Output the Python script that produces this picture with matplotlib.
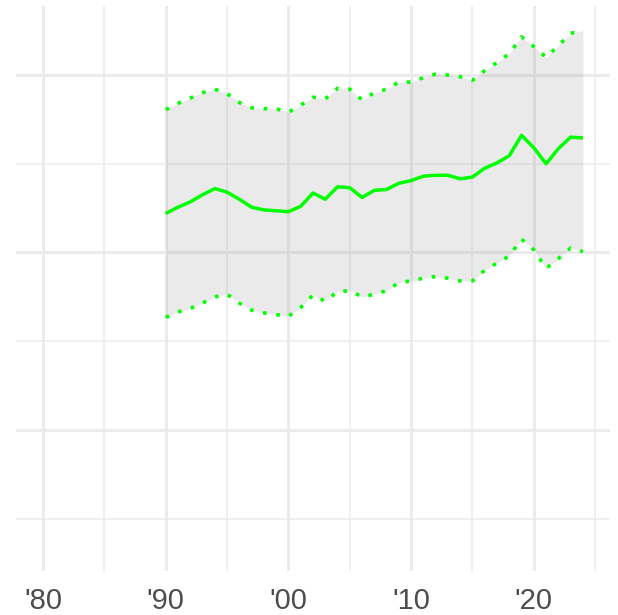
# Trend line with upper/lower band, minimal grid style

import numpy as np
import matplotlib.pyplot as plt
from matplotlib.ticker import FixedLocator

# Data
years = list(range(1990, 2025))
center = [44.4, 45.1, 45.7, 46.5, 47.2, 46.8, 46.0, 45.1, 44.8, 44.7,
          44.6, 45.2, 46.7, 46.0, 47.4, 47.3, 46.2, 47.0, 47.1, 47.8,
          48.1, 48.6, 48.7, 48.7, 48.3, 48.5, 49.5, 50.1, 50.9, 53.2,
          51.8, 50.0, 51.7, 53.0, 52.9]
upper = [56.1, 56.8, 57.4, 58.0, 58.4, 57.9, 56.9, 56.3, 56.2, 56.2,
         55.8, 56.6, 57.5, 57.3, 58.5, 58.4, 57.2, 58.0, 58.4, 59.2,
         59.2, 59.7, 60.1, 60.0, 59.8, 59.4, 60.5, 61.4, 62.4, 64.3,
         63.2, 62.0, 63.3, 64.7, 65.0]
lower = [32.7, 33.3, 33.7, 34.3, 35.0, 35.3, 34.3, 33.5, 33.2, 33.0,
         32.8, 33.8, 35.2, 34.5, 35.6, 35.7, 35.0, 35.3, 35.7, 36.6,
         36.8, 37.1, 37.3, 37.1, 36.8, 36.8, 38.0, 38.8, 39.6, 41.5,
         40.3, 38.2, 39.3, 40.5, 40.1]

x_major = [1980, 1990, 2000, 2010, 2020]
x_minor = [1985, 1995, 2005, 2015, 2025]
x_labels = ["'80", "'90", "'00", "'10", "'20"]
y_major = [20, 40, 60]
y_minor = [10, 30, 50]

# Figure setup
fig = plt.figure(figsize=(6.18, 6.15), dpi=100)
ax = fig.add_axes([0.0259, 0.0722, 0.961, 0.918])
plt.rcParams['font.family'] = ['Liberation Sans', 'DejaVu Sans']

# Band and lines
ax.fill_between(years, lower, upper, color='#7F7F7F', alpha=0.16,
                linewidth=0, zorder=2)
ax.plot(years, center, color='#00FF00', linewidth=2.5, zorder=3,
        solid_capstyle='butt', solid_joinstyle='round')
ax.plot(years, upper, color='#00FF00', linewidth=2.6, zorder=3,
        linestyle=(0, (1, 2.7)), dash_capstyle='butt')
ax.plot(years, lower, color='#00FF00', linewidth=2.6, zorder=3,
        linestyle=(0, (1, 2.7)), dash_capstyle='butt')

# Axes limits and ticks
ax.set_xlim(1977.8, 2026.2)
ax.set_ylim(4.16, 67.77)
ax.xaxis.set_major_locator(FixedLocator(x_major))
ax.xaxis.set_minor_locator(FixedLocator(x_minor))
ax.yaxis.set_major_locator(FixedLocator(y_major))
ax.yaxis.set_minor_locator(FixedLocator(y_minor))
ax.set_xticklabels(x_labels, fontsize=21, color='#4D4D4D',
                   family=['Liberation Sans', 'DejaVu Sans'])
ax.set_yticklabels([])
ax.tick_params(which='both', length=0)
ax.tick_params(axis='x', pad=11.5)

# Grid
ax.set_axisbelow(True)
ax.grid(which='major', color='#EBEBEB', linewidth=2.1)
ax.grid(which='minor', color='#EBEBEB', linewidth=1.1)
for s in ax.spines.values():
    s.set_visible(False)

fig.savefig('out.png', dpi=100)
